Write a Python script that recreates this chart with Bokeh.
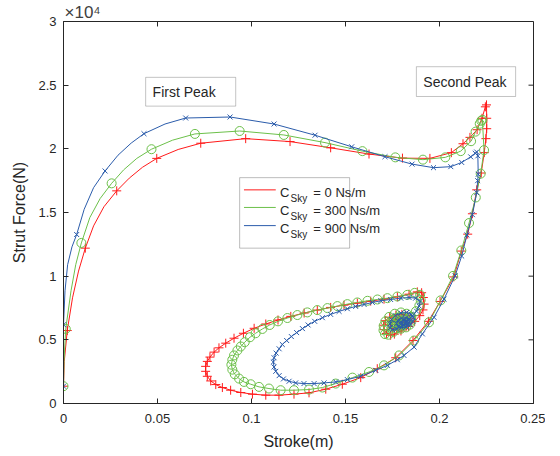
from bokeh.plotting import figure
from bokeh.models import (Range1d, FixedTicker, CustomJSTickFormatter,
                          BoxAnnotation, Label, Arrow)
from bokeh.embed import file_html
from bokeh.resources import INLINE

# ---------------- data (stroke in m, strut force in N) ----------------
X_TICKS = [0, 0.05, 0.1, 0.15, 0.2, 0.25]
Y_TICKS = [0, 5000, 10000, 15000, 20000, 25000, 30000]
Y_EXPONENT = "×10⁴"
SERIES_NAMES = ["0 Ns/m", "300 Ns/m", "900 Ns/m"]
ANNOTATIONS = ["First Peak", "Second Peak"]

# C_Sky = 0 Ns/m : marker points
c0_pts = [(0.0, 1360), (0.0020, 5730), (0.0116, 12200), (0.0283, 16700), (0.0496, 19250),
          (0.0730, 20440), (0.0969, 20800), (0.1205, 20570), (0.1421, 20080), (0.1625, 19590),
          (0.1803, 19270), (0.1949, 19250), (0.2063, 19700), (0.2125, 20400), (0.2162, 20900),
          (0.2200, 21500), (0.2226, 22400), (0.2244, 23300), (0.2250, 23450), (0.2251, 22400),
          (0.2251, 21580), (0.2247, 20800), (0.2238, 19700), (0.2222, 18100), (0.2198, 16780),
          (0.2175, 14900), (0.2150, 13300), (0.2116, 11970), (0.2076, 9940), (0.2003, 8013),
          (0.1941, 6453), (0.1859, 4945), (0.1767, 3593), (0.1669, 2735), (0.1581, 2033),
          (0.1483, 1513), (0.1395, 1123), (0.1306, 837), (0.1226, 733), (0.1146, 655),
          (0.1076, 655), (0.1005, 733), (0.0943, 863), (0.0889, 1045), (0.0845, 1253),
          (0.0810, 1487), (0.0783, 1773), (0.0765, 2137), (0.0756, 2527), (0.0756, 2917),
          (0.0765, 3307), (0.0779, 3645), (0.0801, 4035), (0.0827, 4373), (0.0863, 4737),
          (0.0907, 5127), (0.0957, 5517), (0.1014, 5907), (0.1076, 6245), (0.1141, 6557),
          (0.1209, 6843), (0.1280, 7103), (0.1350, 7337), (0.1421, 7545), (0.1492, 7727),
          (0.1563, 7883), (0.1634, 8039), (0.1705, 8195), (0.1776, 8377), (0.1838, 8585),
          (0.1882, 8767), (0.1905, 8700), (0.1914, 8325), (0.1918, 7805), (0.1912, 7350),
          (0.1895, 6900), (0.1868, 6450), (0.1835, 6050), (0.1795, 5700), (0.1760, 5450),
          (0.1740, 5360), (0.1718, 5500), (0.1705, 5800), (0.1703, 6150), (0.1712, 6500),
          (0.1735, 6780), (0.1768, 6950), (0.1800, 7000), (0.1828, 6900), (0.1842, 6650),
          (0.1840, 6350), (0.1825, 6080), (0.1800, 5900), (0.1772, 5860), (0.1750, 5960),
          (0.1740, 6180), (0.1746, 6420), (0.1765, 6600), (0.1790, 6640), (0.1808, 6520),
          (0.1812, 6320), (0.1800, 6150), (0.1782, 6100), (0.1768, 6200), (0.1768, 6380),
          (0.1782, 6470), (0.1795, 6400), (0.1794, 6260), (0.1783, 6220)]
# line path of the initial rise (ends on the 6th marker)
c0_rise = [(0.0, 0), (0.0, 1360), (0.0004, 3300), (0.0020, 5730), (0.0048, 8300),
           (0.0080, 10400), (0.0116, 12200), (0.0160, 13950), (0.0215, 15450),
           (0.0283, 16700), (0.0350, 17700), (0.0420, 18550), (0.0496, 19250),
           (0.0610, 19950), (0.0730, 20440)]

# C_Sky = 300 Ns/m
c300_pts = [(0.0, 1360), (0.0012, 5860), (0.0095, 12610), (0.0256, 17290), (0.0468, 19970),
            (0.0699, 21170), (0.0937, 21400), (0.1172, 21090), (0.1391, 20490), (0.1590, 19820),
            (0.1765, 19330), (0.1912, 19150), (0.2031, 19330), (0.2113, 19820), (0.2168, 20600),
            (0.2192, 21350), (0.2214, 21970), (0.2222, 22200), (0.2228, 22280), (0.2237, 19900),
            (0.2219, 18050), (0.2193, 16180), (0.2157, 14170), (0.2116, 12020), (0.2072, 10020),
            (0.2006, 8100), (0.1944, 6375), (0.1865, 4945), (0.1785, 3775), (0.1705, 2995),
            (0.1625, 2475), (0.1537, 2033), (0.1448, 1565), (0.1377, 1253), (0.1306, 1097),
            (0.1226, 1045), (0.1155, 1045), (0.1093, 1175), (0.1040, 1305), (0.0996, 1513),
            (0.0960, 1695), (0.0934, 1955), (0.0911, 2293), (0.0898, 2657), (0.0893, 3047),
            (0.0898, 3437), (0.0907, 3775), (0.0925, 4165), (0.0943, 4477), (0.0964, 4815),
            (0.0992, 5205), (0.1022, 5517), (0.1058, 5855), (0.1097, 6167), (0.1141, 6453),
            (0.1191, 6713), (0.1244, 6947), (0.1297, 7155), (0.1350, 7337), (0.1404, 7493),
            (0.1457, 7649), (0.1510, 7805), (0.1563, 7935), (0.1617, 8065), (0.1670, 8169),
            (0.1723, 8273), (0.1776, 8403), (0.1829, 8533), (0.1868, 8689), (0.1897, 8533),
            (0.1900, 8117), (0.1893, 7700), (0.1875, 7250), (0.1850, 6800), (0.1820, 6350),
            (0.1788, 5950), (0.1755, 5620), (0.1728, 5400), (0.1710, 5450), (0.1702, 5750),
            (0.1703, 6100), (0.1712, 6450), (0.1732, 6800), (0.1762, 7050), (0.1795, 7150),
            (0.1825, 7050), (0.1845, 6800), (0.1851, 6500), (0.1842, 6200), (0.1822, 5980),
            (0.1795, 5870), (0.1768, 5900), (0.1750, 6080), (0.1745, 6330), (0.1755, 6580),
            (0.1777, 6730), (0.1802, 6740), (0.1818, 6600), (0.1822, 6380), (0.1810, 6180),
            (0.1790, 6100), (0.1772, 6170), (0.1766, 6350), (0.1777, 6500), (0.1795, 6510),
            (0.1802, 6380), (0.1795, 6240), (0.1782, 6230)]
c300_rise = [(0.0, 0), (0.0, 1360), (0.0003, 3400), (0.0012, 5860), (0.0040, 8850),
             (0.0065, 10900), (0.0095, 12610), (0.0140, 14600), (0.0195, 16100),
             (0.0256, 17290), (0.0320, 18350), (0.0390, 19250), (0.0468, 19970),
             (0.0580, 20680), (0.0699, 21170)]

# C_Sky = 900 Ns/m
c900_pts = [(0.0, 1360), (0.0, 6190), (0.0070, 13270), (0.0221, 18260), (0.0428, 21190),
            (0.0650, 22420), (0.0886, 22500), (0.1120, 21950), (0.1338, 21070), (0.1533, 20160),
            (0.1710, 19380), (0.1854, 18800), (0.1968, 18520), (0.2060, 18600), (0.2118, 18930),
            (0.2166, 19370), (0.2190, 19650), (0.2198, 19750), (0.2204, 19450), (0.2206, 18000),
            (0.2203, 17500), (0.2198, 16560), (0.2175, 14830), (0.2146, 13230), (0.2118, 11580),
            (0.2083, 10020), (0.2024, 8200), (0.1971, 6765), (0.1909, 5465), (0.1865, 4425),
            (0.1811, 3775), (0.1776, 3437), (0.1723, 2995), (0.1661, 2605), (0.1581, 2137),
            (0.1510, 1877), (0.1448, 1695), (0.1386, 1617), (0.1333, 1565), (0.1279, 1565),
            (0.1235, 1617), (0.1200, 1747), (0.1170, 1929), (0.1147, 2189), (0.1129, 2527),
            (0.1120, 2865), (0.1116, 3255), (0.1120, 3593), (0.1131, 3957), (0.1147, 4295),
            (0.1164, 4633), (0.1187, 4945), (0.1212, 5257), (0.1240, 5569), (0.1271, 5881),
            (0.1301, 6167), (0.1336, 6453), (0.1377, 6739), (0.1421, 6999), (0.1466, 7233),
            (0.1510, 7441), (0.1554, 7623), (0.1599, 7779), (0.1643, 7935), (0.1687, 8065),
            (0.1740, 8169), (0.1794, 8273), (0.1838, 8325), (0.1873, 8273), (0.1897, 8013),
            (0.1892, 7650), (0.1878, 7250), (0.1855, 6850), (0.1828, 6450), (0.1800, 6100),
            (0.1772, 5850), (0.1750, 5800), (0.1738, 5950), (0.1737, 6250), (0.1745, 6600),
            (0.1765, 6900), (0.1795, 7100), (0.1825, 7150), (0.1850, 7000), (0.1860, 6750),
            (0.1858, 6450), (0.1845, 6180), (0.1822, 6000), (0.1798, 5960), (0.1780, 6050),
            (0.1772, 6280), (0.1778, 6520), (0.1798, 6700), (0.1822, 6740), (0.1838, 6620),
            (0.1840, 6400), (0.1828, 6220), (0.1810, 6160), (0.1796, 6250), (0.1795, 6420),
            (0.1808, 6540), (0.1822, 6500), (0.1825, 6360), (0.1815, 6290)]
c900_rise = [(0.0, 0), (0.0, 1360), (0.0, 6190), (0.0008, 8850), (0.0022, 10900),
             (0.0045, 12300), (0.0070, 13270), (0.0110, 15250), (0.0160, 16950),
             (0.0221, 18260), (0.0290, 19500), (0.0360, 20450), (0.0428, 21190),
             (0.0540, 21950), (0.0650, 22420)]

# ---------------- styling ----------------
FONT = "Liberation Sans"
AX = "#262626"
COLORS = ["#ff1a1a", "#6cc04a", "#2b5cab"]
MARKERS = ["cross", "circle", "x"]
SIZES = [9, 9, 7]
TICK_PX = 5

p = figure(width=545, height=455, output_backend="svg", toolbar_location=None,
           x_range=Range1d(0, 0.25), y_range=Range1d(0, 30000),
           min_border_left=63, min_border_right=12, min_border_top=19, min_border_bottom=52,
           x_axis_label="Stroke(m)", y_axis_label="Strut Force(N)",
           title=Y_EXPONENT)
p.grid.visible = False
p.outline_line_color = AX
p.outline_line_width = 1
p.background_fill_color = "white"
p.border_fill_color = "white"

p.title.align = "left"
p.title.offset = 1
p.title.standoff = 0
p.title.text_font = FONT
p.title.text_font_size = "17px"
p.title.text_line_height = 1.0
p.title.text_font_style = "normal"
p.title.text_color = "#404040"

XFMT = "return (Math.round(tick*100)/100).toString();"
YFMT = "return (Math.round(tick/1000)/10).toString();"

for ax, ticks, code in ((p.xaxis[0], X_TICKS, XFMT), (p.yaxis[0], Y_TICKS, YFMT)):
    ax.ticker = FixedTicker(ticks=ticks)
    ax.formatter = CustomJSTickFormatter(code=code)
    ax.major_tick_in = TICK_PX
    ax.major_tick_out = 0
    ax.minor_tick_line_color = None
    ax.axis_line_color = AX
    ax.major_tick_line_color = AX
    ax.major_label_text_color = AX
    ax.major_label_text_font = FONT
    ax.major_label_text_font_size = "13px"
    ax.axis_label_text_font = FONT
    ax.axis_label_text_font_size = "16px"
    ax.axis_label_text_font_style = "normal"
    ax.axis_label_text_color = AX
p.xaxis[0].major_label_standoff = 10
p.xaxis[0].axis_label_standoff = 7
p.yaxis[0].major_label_standoff = 7
p.yaxis[0].axis_label_standoff = 7

# inward ticks on the top and right edges of the box (at the same tick values)
tx = TICK_PX * 0.25 / 470
ty = TICK_PX * 30000 / 384
p.segment(x0=X_TICKS, y0=[Y_TICKS[-1]] * len(X_TICKS), x1=X_TICKS,
          y1=[Y_TICKS[-1] - ty] * len(X_TICKS), line_color=AX, line_width=1)
p.segment(x0=[X_TICKS[-1]] * len(Y_TICKS), y0=Y_TICKS, x1=[X_TICKS[-1] - tx] * len(Y_TICKS),
          y1=Y_TICKS, line_color=AX, line_width=1)

# ---------------- curves ----------------
for pts, rise, col, mk, sz in zip([c0_pts, c300_pts, c900_pts],
                                  [c0_rise, c300_rise, c900_rise],
                                  COLORS, MARKERS, SIZES):
    s = [a for a, b in pts]
    f = [b for a, b in pts]
    ls = [a for a, b in rise] + s[6:]
    lf = [b for a, b in rise] + f[6:]
    p.line(ls, lf, line_color=col, line_width=1)
    p.scatter(s, f, marker=mk, size=sz, line_color=col, fill_color=None, line_width=1)

# ---------------- text boxes ----------------
p.add_layout(BoxAnnotation(left=0.0437, right=0.0916, bottom=23353, top=25615,
                           fill_color="white", fill_alpha=1, line_color="#3c3c3c", line_width=1))
p.add_layout(Label(x=0.0474, y=24484, text=ANNOTATIONS[0], text_font=FONT, text_font_size="14px",
                   text_color="#262626", text_baseline="middle"))
p.add_layout(BoxAnnotation(left=0.1877, right=0.2405, bottom=24110, top=26450,
                           fill_color="white", fill_alpha=1, line_color="#3c3c3c", line_width=1))
p.add_layout(Label(x=0.1914, y=25280, text=ANNOTATIONS[1], text_font=FONT, text_font_size="14px",
                   text_color="#262626", text_baseline="middle"))

# ---------------- legend ----------------
p.add_layout(BoxAnnotation(left=0.0937, right=0.1522, bottom=12199, top=17737,
                           fill_color="white", fill_alpha=1, line_color="#262626", line_width=1))
LEG_Y = [16778, 15397, 13970]
for name, col, ly in zip(SERIES_NAMES, COLORS, LEG_Y):
    p.add_layout(Arrow(x_start=0.0960, x_end=0.1129, y_start=ly, y_end=ly, end=None,
                       line_color=col, line_width=1))
    p.add_layout(Label(x=0.1152, y=ly - 211, text="C", text_font=FONT, text_font_size="13px",
                       text_color="#262626", text_baseline="alphabetic"))
    p.add_layout(Label(x=0.1208, y=ly - 702, text="Sky", text_font=FONT, text_font_size="10px",
                       text_color="#262626", text_baseline="alphabetic"))
    p.add_layout(Label(x=0.1329, y=ly - 211, text="= " + name, text_font=FONT,
                       text_font_size="13px", text_color="#262626", text_baseline="alphabetic"))

open("out.html", "w").write(file_html(p, INLINE))
